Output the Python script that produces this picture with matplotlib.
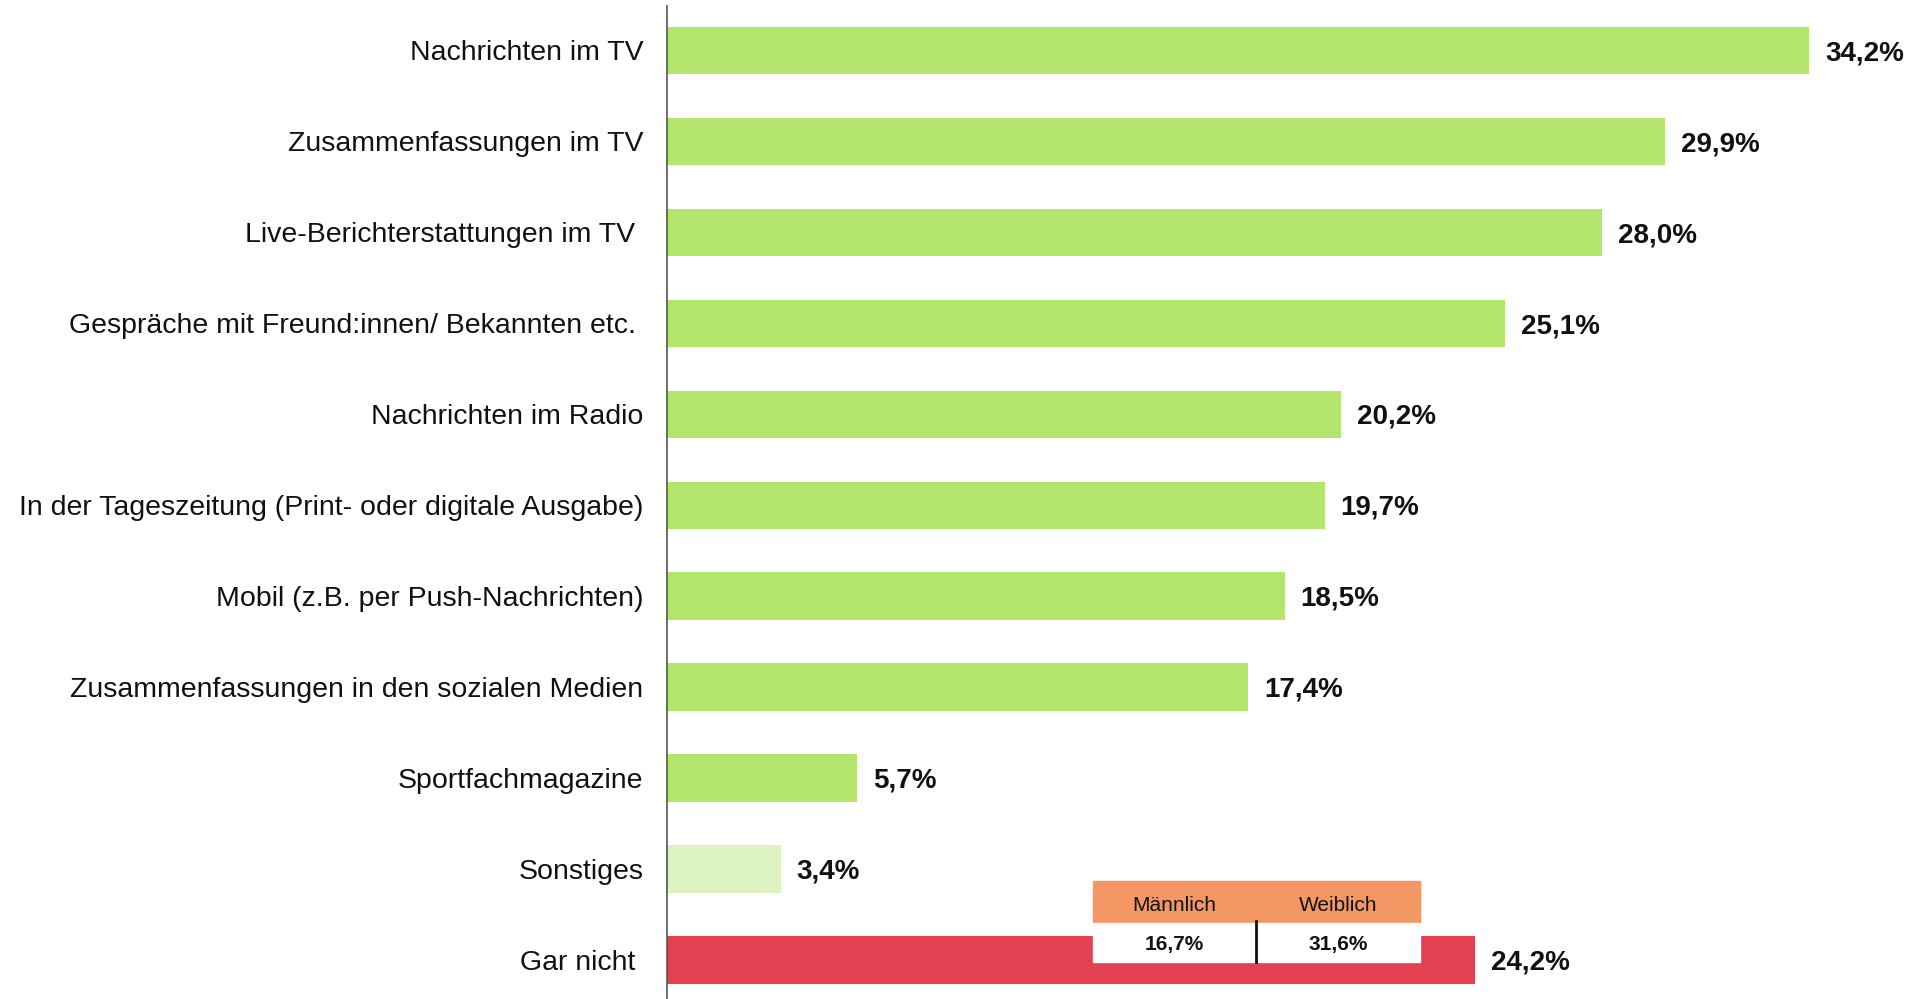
import matplotlib.pyplot as plt
from matplotlib.patches import Rectangle

# --- Daten --- #
labels = [
    "Nachrichten im TV",
    "Zusammenfassungen im TV",
    "Live-Berichterstattungen im TV ",
    "Gespräche mit Freund:innen/ Bekannten etc. ",
    "Nachrichten im Radio",
    "In der Tageszeitung (Print- oder digitale Ausgabe)",
    "Mobil (z.B. per Push-Nachrichten)",
    "Zusammenfassungen in den sozialen Medien",
    "Sportfachmagazine",
    "Sonstiges",
    "Gar nicht ",
]
values = [34.2, 29.9, 28.0, 25.1, 20.2, 19.7, 18.5, 17.4, 5.7, 3.4, 24.2]
bar_colors = ["#b3e66b"] * 9 + ["#ddf4c2", "#e34152"]

gender_labels = ["Männlich", "Weiblich"]
gender_values = [16.7, 31.6]

W, H, DPI = 1913, 999, 100
fig = plt.figure(figsize=(W / DPI, H / DPI), dpi=DPI)
plt.rcParams["font.family"] = ["Liberation Sans", "DejaVu Sans"]

ax_left = 667 / W
ax = fig.add_axes([ax_left, 0, 1 - ax_left, 993 / H])

y = list(range(len(values)))
ax.barh(y, values, height=0.52, color=bar_colors)

for yi, v in zip(y, values):
    ax.text(v + 0.48, yi + 0.03, f"{v:.1f}%".replace(".", ","), va="center", ha="left",
            fontsize=20, fontweight="bold", color="#111111")

ax.set_xlim(0, 37.32)
ax.set_ylim(10.43, -0.489)
ax.set_yticks(y)
ax.set_yticklabels(labels, fontsize=20.5, color="#111111")
ax.tick_params(axis="y", length=0, pad=17)
ax.set_xticks([])
for s in ["top", "right", "bottom"]:
    ax.spines[s].set_visible(False)
ax.spines["left"].set_color("#555555")
ax.spines["left"].set_linewidth(1.2)

# --- Inset-Tabelle Geschlecht --- #
x0, x1 = 12.76, 22.55
xm = (x0 + x1) / 2
y_top, y_mid, y_bot = 9.13, 9.59, 10.02
cw = (x1 - x0) / 2
ax.add_patch(Rectangle((x0, y_top), x1 - x0, y_mid - y_top, color="#f59665", zorder=3))
ax.add_patch(Rectangle((x0, y_mid), x1 - x0, y_bot - y_mid, color="white", zorder=3))
ax.plot([xm, xm], [y_mid - 0.02, y_bot], color="#111111", lw=2, zorder=4)
for i, (g, gv) in enumerate(zip(gender_labels, gender_values)):
    cx = x0 + cw * (i + 0.5)
    ax.text(cx, (y_top + y_mid) / 2 + 0.04, g, ha="center", va="center",
            fontsize=15, color="#111111", zorder=5)
    ax.text(cx, (y_mid + y_bot) / 2 + 0.03, f"{gv:.1f}%".replace(".", ","), ha="center",
            va="center", fontsize=15, fontweight="bold", color="#111111", zorder=5)

fig.savefig("out.png", dpi=DPI)
